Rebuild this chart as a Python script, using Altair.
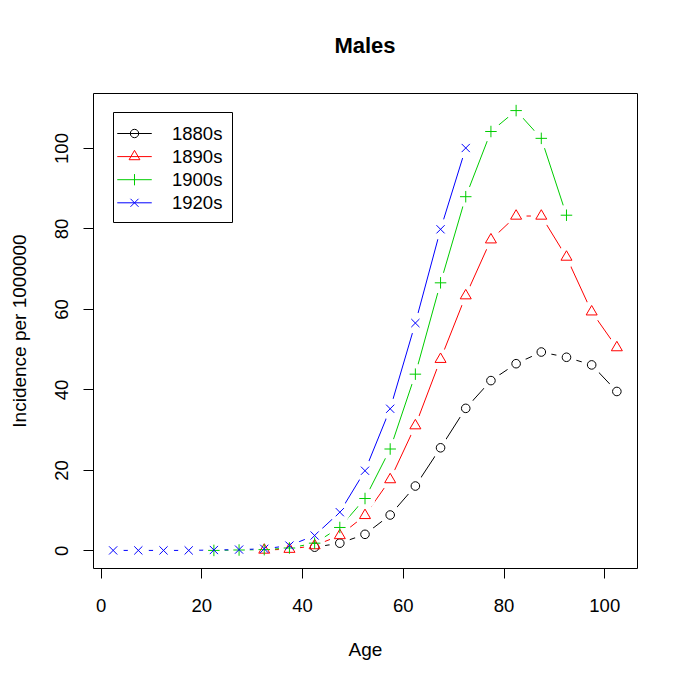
import altair as alt
import pandas as pd

series_names = ["1880s", "1890s", "1900s", "1920s"]
series_colors = ["#000000", "#FF0000", "#00CD00", "#0000FF"]

age_1880s = [42.5, 47.5, 52.5, 57.5, 62.5, 67.5, 72.5, 77.5, 82.5, 87.5, 92.5, 97.5, 102.5]
inc_1880s = [0.8, 1.8, 4.0, 8.8, 16.0, 25.5, 35.3, 42.2, 46.4, 49.3, 48.0, 46.1, 39.5]

age_1890s = [32.5, 37.5, 42.5, 47.5, 52.5, 57.5, 62.5, 67.5, 72.5, 77.5, 82.5, 87.5, 92.5, 97.5, 102.5]
inc_1890s = [0.1, 0.3, 1.2, 3.7, 8.7, 17.6, 31.0, 47.5, 63.3, 77.2, 83.1, 83.1, 72.9, 59.3, 50.4]

age_1900s = [22.5, 27.5, 32.5, 37.5, 42.5, 47.5, 52.5, 57.5, 62.5, 67.5, 72.5, 77.5, 82.5, 87.5, 92.5]
inc_1900s = [0.0, 0.1, 0.2, 0.6, 1.8, 5.7, 12.9, 25.2, 43.8, 66.5, 87.9, 104.1, 109.3, 102.4, 83.3]

age_1920s = [2.5, 7.5, 12.5, 17.5, 22.5, 27.5, 32.5, 37.5, 42.5, 47.5, 52.5, 57.5, 62.5, 67.5, 72.5]
inc_1920s = [0.0, 0.0, 0.0, 0.0, 0.1, 0.2, 0.4, 1.2, 3.7, 9.5, 19.8, 35.2, 56.5, 79.8, 100.0]

x_ticks = [0, 20, 40, 60, 80, 100]
y_ticks = [0, 20, 40, 60, 80, 100]

# marker paths (unit = sqrt(size)/2 px)
plot_shapes = [
    "M0.86,0A0.86,0.86 0 1,1 -0.86,0A0.86,0.86 0 1,1 0.86,0Z",
    "M0,-1.26L1.1,0.63L-1.1,0.63Z",
    "M-1.15,0L1.15,0M0,-1.15L0,1.15",
    "M-0.82,-0.82L0.82,0.82M-0.82,0.82L0.82,-0.82",
]
legend_shapes = [
    "M-1.5,0L1.5,0M0.365,0A0.365,0.365 0 1,1 -0.365,0A0.365,0.365 0 1,1 0.365,0Z",
    "M-1.5,0L1.5,0M0,-0.54L0.47,0.27L-0.47,0.27Z",
    "M-1.5,0L1.5,0M0,-0.49L0,0.49",
    "M-1.5,0L1.5,0M-0.35,-0.35L0.35,0.35M-0.35,0.35L0.35,-0.35",
]

ages = [age_1880s, age_1890s, age_1900s, age_1920s]
incs = [inc_1880s, inc_1890s, inc_1900s, inc_1920s]
rows = []
for name, path, a_list, v_list in zip(series_names, plot_shapes, ages, incs):
    for a, v in zip(a_list, v_list):
        rows.append({"series": name, "age": a, "inc": v, "path": path})
df = pd.DataFrame(rows)

FONT = "Liberation Sans"
LABEL_FS = 18.5
TITLE_FS = 19

legend = alt.Legend(
    title=None, orient="none", legendX=20, legendY=19,
    strokeColor="black", fillColor="white", padding=9.5, cornerRadius=0,
    symbolSize=529, symbolStrokeWidth=1, labelFontSize=LABEL_FS, labelFont=FONT,
    labelColor="black", labelOffset=25.5, rowPadding=1.1, symbolOpacity=1,
)

color_scale = alt.Scale(domain=series_names, range=series_colors)
color_enc = alt.Color("series:N", scale=color_scale, legend=legend)

x_enc = alt.X(
    "age:Q",
    scale=alt.Scale(domain=[-1.5, 106.5], nice=False, zero=False),
    axis=alt.Axis(values=x_ticks, title="Age", domain=False, grid=False, tickSize=10,
                  tickColor="black", labelFontSize=LABEL_FS, labelFont=FONT, labelColor="black",
                  labelPadding=18.3, labelFlush=False, titleFontSize=TITLE_FS, titleFont=FONT,
                  titleFontWeight="normal", titleColor="black", titleY=81, titleBaseline="middle"),
)
y_enc = alt.Y(
    "inc:Q",
    scale=alt.Scale(domain=[-4.37, 113.67], nice=False, zero=False),
    axis=alt.Axis(values=y_ticks, title="Incidence per 1000000", domain=False, grid=False,
                  tickSize=10, tickColor="black", labelFontSize=LABEL_FS, labelFont=FONT,
                  labelColor="black", labelAngle=270, labelAlign="center", labelBaseline="middle",
                  labelPadding=22, labelFlush=False, titleFontSize=TITLE_FS, titleFont=FONT,
                  titleFontWeight="normal", titleColor="black", titleAngle=270, titleX=-74,
                  titleBaseline="middle"),
)

base = alt.Chart(df).encode(x=x_enc, y=y_enc)

lines = base.mark_line(strokeWidth=1).encode(color=color_enc, detail="series:N", order="age:Q")
halos = base.mark_point(shape="circle", filled=True, color="white", opacity=1, size=441, strokeWidth=0)
pts = base.mark_point(filled=False, size=100, strokeWidth=1, opacity=1).encode(
    color=color_enc,
    shape=alt.Shape("path:N", scale=None),
)
legend_layer = base.transform_filter("false").mark_point(
    filled=False, size=529, strokeWidth=1, opacity=1
).encode(
    color=color_enc,
    shape=alt.Shape("series:N", scale=alt.Scale(domain=series_names, range=legend_shapes), legend=legend),
)

chart = alt.layer(lines, halos, pts, legend_layer).properties(
    width=544, height=475,
    background="white",
    title=alt.TitleParams("Males", fontSize=22, fontWeight="bold", font=FONT, color="black",
                          anchor="middle", baseline="middle", offset=25),
    autosize=alt.AutoSizeParams(type="none"),
    padding={"left": 85, "top": 85, "right": 40, "bottom": 100},
).configure_view(stroke="black", strokeWidth=1)

chart.save("out.html", embed_options={"renderer": "svg", "actions": False})
